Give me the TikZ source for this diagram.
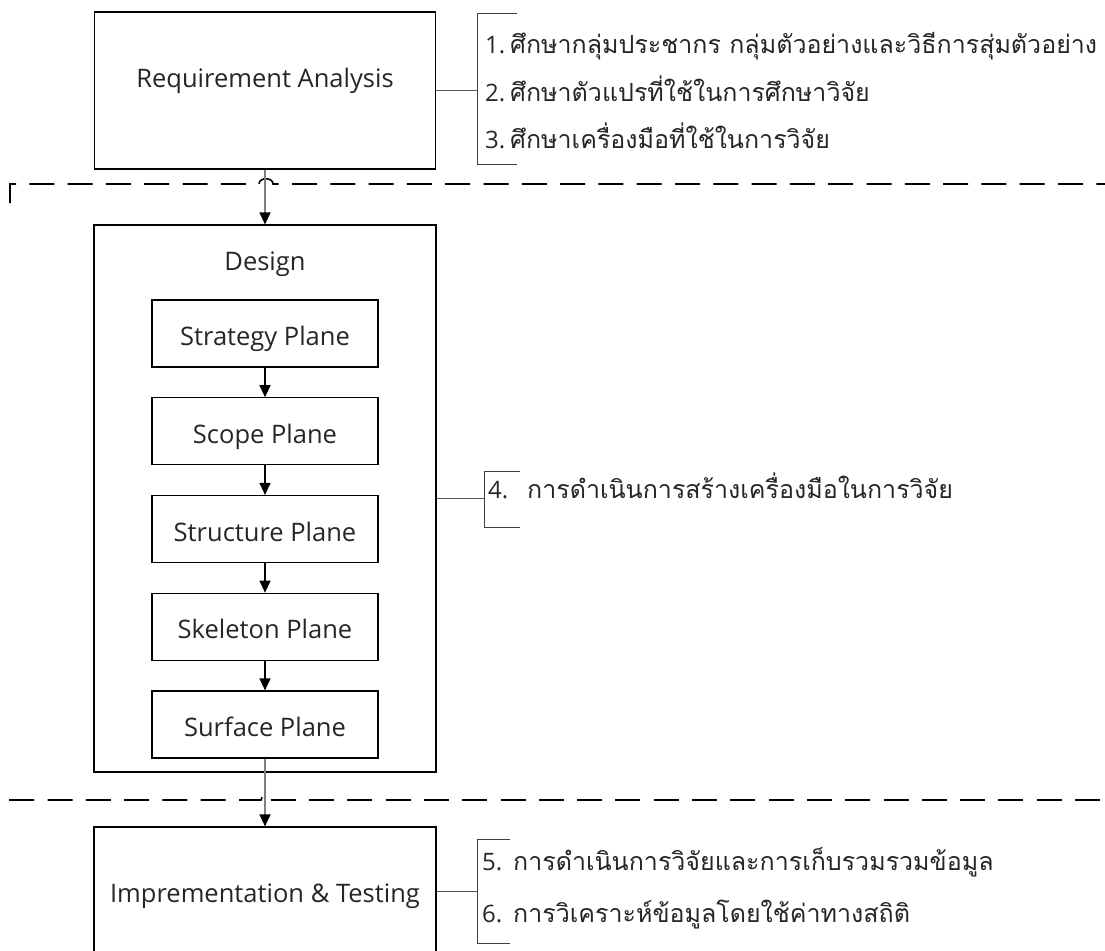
\documentclass[tikz,border=0pt]{standalone}
\usepackage{fontspec}
\setmainfont{Open Sans}
\newfontfamily\thaifont[Script=Thai]{Loma}
\usetikzlibrary{arrows.meta}
\tikzset{
  box/.style={draw=black, line width=1.2pt, inner sep=0pt},
  lbl/.style={font=\fontsize{25.5}{30}\selectfont, anchor=base, inner sep=0pt, text=black!85},
  thai/.style={font=\thaifont\fontsize{25}{30}\selectfont, anchor=base west, inner sep=0pt, text=black!85},
  flow/.style={draw=black!50, line width=1.2pt, -{Triangle[length=12pt,width=11pt,color=black]}},
  innerflow/.style={draw=black, line width=1.2pt, -{Triangle[length=12pt,width=11pt]}},
  link/.style={draw=black!65, line width=1pt},
  brk/.style={draw=black!75, line width=1pt},
  sep/.style={draw=black, line width=1.6pt, dash pattern=on 25pt off 13.3pt}
}
\newcommand{\numlbl}[2]{\makebox[#1][l]{\fontspec{Open Sans}\fontsize{24}{28}\selectfont #2}}
\begin{document}
\begin{tikzpicture}[x=1pt,y=-1pt]
\useasboundingbox (0,0) rectangle (1105,950);
\clip (0,0) rectangle (1105,950);

% separators
\draw[sep] (10,203) -- (10,184) -- (259,184) .. controls (259,177) and (273,177) .. (273,184) -- (1110,184);
\draw[sep] (9.2,800) -- (261,800) -- (262.5,796.5);
\draw[sep] (270.7,800) -- (1110,800);

% main boxes
\node[box, minimum width=341pt, minimum height=157pt] (req) at (265,90.5) {};
\node[lbl] (reqt) at (265,88) {Requirement Analysis};

\node[box, minimum width=342pt, minimum height=547pt] (des) at (265,498.5) {};
\node[lbl] (dest) at (265,270) {Design};

\node[box, minimum width=226pt, minimum height=67pt] (p1) at (265,333.5) {};
\node[box, minimum width=226pt, minimum height=67pt] (p2) at (265,431.25) {};
\node[box, minimum width=226pt, minimum height=67pt] (p3) at (265,529) {};
\node[box, minimum width=226pt, minimum height=67pt] (p4) at (265,626.75) {};
\node[box, minimum width=226pt, minimum height=67pt] (p5) at (265,724.5) {};
\node[lbl] (p1t) at (265,345.5) {Strategy Plane};
\node[lbl] (p2t) at (265,443.25) {Scope Plane};
\node[lbl] (p3t) at (265,541) {Structure Plane};
\node[lbl] (p4t) at (265,638.75) {Skeleton Plane};
\node[lbl] (p5t) at (265,736.5) {Surface Plane};

\node[box, minimum width=342pt, minimum height=128pt] (imp) at (265,891) {};
\node[lbl] (impt) at (265,902) {Imprementation \& Testing};

% arrows
\draw[flow] (req.south) -- (des.north);
\draw[innerflow] (p1.south) -- (p2.north);
\draw[innerflow] (p2.south) -- (p3.north);
\draw[innerflow] (p3.south) -- (p4.north);
\draw[innerflow] (p4.south) -- (p5.north);
\draw[flow] (p5.south) -- (imp.north);

% brackets
\coordinate (b1) at (477,90.5);
\coordinate (b2) at (484,498.5);
\coordinate (b3) at (477,891);
\draw[link] (req.east) -- (b1);
\draw[link] (des.east) -- (b2);
\draw[link] (imp.east) -- (b3);
\draw[brk] (517,14) -- (477,14) -- (477,164) -- (517,164);
\draw[brk] (520,471) -- (484,471) -- (484,527) -- (520,527);
\draw[brk] (510,839) -- (477,839) -- (477,943) -- (510,943);

% texts
\node[thai] (t1) at (485,53) {\numlbl{25pt}{1.}ศึกษากลุ่มประชากร กลุ่มตัวอย่างและวิธีการสุ่มตัวอย่าง};
\node[thai] (t2) at (485,101) {\numlbl{25pt}{2.}ศึกษาตัวแปรที่ใช้ในการศึกษาวิจัย};
\node[thai] (t3) at (485,148) {\numlbl{25pt}{3.}ศึกษาเครื่องมือที่ใช้ในการวิจัย};
\node[thai] (t4) at (488,498) {\numlbl{39pt}{4.}การดำเนินการสร้างเครื่องมือในการวิจัย};
\node[thai] (t5) at (482,870) {\numlbl{31pt}{5.}การดำเนินการวิจัยและการเก็บรวมรวมข้อมูล};
\node[thai] (t6) at (482,922) {\numlbl{31pt}{6.}การวิเคราะห์ข้อมูลโดยใช้ค่าทางสถิติ};
\end{tikzpicture}
\end{document}
